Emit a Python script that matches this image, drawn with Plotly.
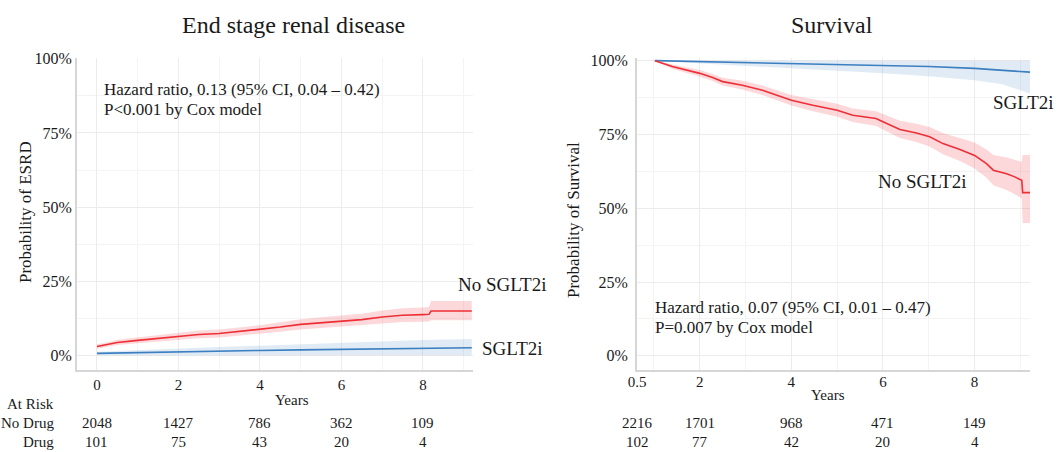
import plotly.graph_objects as go

W, H = 1059, 452

# ---------------- data ----------------
# End stage renal disease (cumulative incidence)
esrd_years = [0, 0.25, 0.5, 1, 1.5, 2, 2.5, 3, 3.5, 4, 4.5, 5, 5.5, 6, 6.5, 7, 7.5, 8, 8.15, 8.2, 9.2]
esrd_no = [0.029, 0.035, 0.043, 0.050, 0.057, 0.065, 0.070, 0.073, 0.080, 0.086, 0.095, 0.104, 0.110,
           0.115, 0.120, 0.129, 0.135, 0.137, 0.138, 0.149, 0.149]
esrd_no_lo = [0.022, 0.027, 0.034, 0.040, 0.046, 0.053, 0.057, 0.060, 0.066, 0.072, 0.079, 0.087, 0.092,
              0.096, 0.100, 0.107, 0.112, 0.113, 0.114, 0.118, 0.118]
esrd_no_hi = [0.037, 0.043, 0.052, 0.060, 0.068, 0.077, 0.083, 0.087, 0.094, 0.101, 0.111, 0.121, 0.128,
              0.134, 0.140, 0.151, 0.158, 0.161, 0.163, 0.183, 0.183]
esrd_drug_years = [0, 1, 2, 3, 4, 5, 6, 7, 8, 9.2]
esrd_drug = [0.006, 0.009, 0.011, 0.013, 0.016, 0.018, 0.020, 0.021, 0.023, 0.025]
esrd_drug_lo = [0, 0, 0, 0, 0, 0, 0, 0, 0, 0]
esrd_drug_hi = [0.012, 0.018, 0.023, 0.028, 0.032, 0.037, 0.041, 0.046, 0.051, 0.055]

# Survival
surv_years = [1.02, 1.4, 2.0, 2.28, 2.5, 2.93, 3.37, 4.0, 4.47, 5.0, 5.34, 5.85, 6.0, 6.37, 6.73,
              7.02, 7.31, 7.68, 8.0, 8.26, 8.41, 8.7, 8.85, 9.03, 9.05, 9.21]
surv_no = [1.0, 0.980, 0.957, 0.943, 0.929, 0.917, 0.900, 0.866, 0.849, 0.832, 0.815, 0.804, 0.793,
           0.767, 0.755, 0.742, 0.719, 0.699, 0.679, 0.651, 0.629, 0.617, 0.608, 0.595, 0.553, 0.553]
surv_no_lo = [1.0, 0.972, 0.946, 0.931, 0.916, 0.902, 0.884, 0.848, 0.829, 0.810, 0.792, 0.779, 0.767,
              0.738, 0.724, 0.709, 0.683, 0.660, 0.635, 0.603, 0.578, 0.562, 0.550, 0.533, 0.450, 0.450]
surv_no_hi = [1.0, 0.988, 0.968, 0.955, 0.942, 0.932, 0.916, 0.884, 0.869, 0.854, 0.838, 0.829, 0.819,
              0.796, 0.786, 0.775, 0.755, 0.738, 0.723, 0.699, 0.680, 0.672, 0.666, 0.657, 0.680, 0.680]
surv_drug_years = [1.02, 2, 3, 4, 5, 6, 7, 8, 8.6, 9.21]
surv_drug = [1.0, 0.997, 0.994, 0.991, 0.988, 0.985, 0.980, 0.974, 0.968, 0.961]
surv_drug_lo = [1.0, 0.990, 0.982, 0.974, 0.966, 0.957, 0.947, 0.934, 0.920, 0.889]
surv_drug_hi = [1.0, 1.0, 1.0, 1.0, 1.0, 1.0, 1.0, 1.0, 1.0, 1.0]

# At-risk tables
risk_ticks_l = [0, 2, 4, 6, 8]
risk_no_l = ["2048", "1427", "786", "362", "109"]
risk_drug_l = ["101", "75", "43", "20", "4"]
risk_ticks_r_labels = ["0.5", "2", "4", "6", "8"]
risk_no_r = ["2216", "1701", "968", "471", "149"]
risk_drug_r = ["102", "77", "42", "20", "4"]

# ---------------- style ----------------
RED = "#EE2F36"
BLUE = "#3C7FC0"
RED_F = "rgba(240,60,75,0.20)"
BLUE_F = "rgba(70,130,190,0.16)"
FONT = "Liberation Serif"
TXT = "#1a1a1a"
GRID = "#ececec"
MINOR = "#f4f4f4"


def px(x):
    return x / W


def py(y):
    return 1 - y / H


XR_MIN = 0.63  # left edge of survival axis (labelled 0.5)

fig = go.Figure()


def band(xs, lo, hi, fill, xa, ya):
    fig.add_trace(go.Scatter(x=xs, y=lo, mode="lines", line=dict(width=0),
                             xaxis=xa, yaxis=ya, hoverinfo="skip", showlegend=False))
    fig.add_trace(go.Scatter(x=xs, y=hi, mode="lines", line=dict(width=0),
                             fill="tonexty", fillcolor=fill, xaxis=xa, yaxis=ya,
                             hoverinfo="skip", showlegend=False))


def line(xs, ys, color, xa, ya, name):
    fig.add_trace(go.Scatter(x=xs, y=ys, mode="lines", name=name,
                             line=dict(color=color, width=1.6),
                             xaxis=xa, yaxis=ya, showlegend=False))


band(esrd_drug_years, esrd_drug_lo, esrd_drug_hi, BLUE_F, "x", "y")
band(esrd_years, esrd_no_lo, esrd_no_hi, RED_F, "x", "y")
line(esrd_drug_years, esrd_drug, BLUE, "x", "y", "SGLT2i")
line(esrd_years, esrd_no, RED, "x", "y", "No SGLT2i")

band(surv_drug_years, surv_drug_lo, surv_drug_hi, BLUE_F, "x2", "y2")
band(surv_years, surv_no_lo, surv_no_hi, RED_F, "x2", "y2")
line(surv_drug_years, surv_drug, BLUE, "x2", "y2", "SGLT2i")
line(surv_years, surv_no, RED, "x2", "y2", "No SGLT2i")

axis_common = dict(showline=True, linecolor="#d6d6d6", linewidth=2, zeroline=False,
                   gridcolor=GRID, gridwidth=1, ticks="", showticklabels=True, automargin=False)

ydom = [py(370), py(58)]

fig.update_layout(
    width=W, height=H, margin=dict(l=0, r=0, t=0, b=0, pad=0),
    paper_bgcolor="white", plot_bgcolor="white",
    font=dict(family=FONT, color=TXT),
    showlegend=False,
    xaxis=dict(domain=[px(77), px(473)], range=[-0.49, 9.23], tickvals=risk_ticks_l,
               ticktext=[str(v) for v in risk_ticks_l], tickfont=dict(size=15, color=TXT),
               ticklabelstandoff=0,
               minor=dict(showgrid=True, gridcolor=MINOR, tick0=1, dtick=2), anchor="y", **axis_common),
    yaxis=dict(domain=ydom, range=[-0.05, 1.003], tickvals=[0, 0.25, 0.5, 0.75, 1.0],
               tickformat=".0%", tickfont=dict(size=16, color=TXT), ticklabelstandoff=0,
               minor=dict(showgrid=True, gridcolor=MINOR, tick0=0.125, dtick=0.25), anchor="x", **axis_common),
    xaxis2=dict(domain=[px(637), px(1030)], range=[XR_MIN, 9.21],
                tickvals=[XR_MIN, 2, 4, 6, 8], ticktext=risk_ticks_r_labels,
                tickfont=dict(size=15, color=TXT), ticklabelstandoff=-3,
                minor=dict(showgrid=True, gridcolor=MINOR, tick0=1, dtick=1), anchor="y2", **axis_common),
    yaxis2=dict(domain=ydom, range=[-0.048, 1.009], tickvals=[0, 0.25, 0.5, 0.75, 1.0],
                tickformat=".0%", tickfont=dict(size=16, color=TXT), ticklabelstandoff=4,
                minor=dict(showgrid=True, gridcolor=MINOR, tick0=0.125, dtick=0.25), anchor="x2", **axis_common),
)

ann = []


def text(x, y, s, size, xanchor="center", angle=0, xref="paper", color=TXT):
    ann.append(dict(x=x, y=y, xref=xref, yref="paper", text=s, showarrow=False,
                    xanchor=xanchor, yanchor="middle", textangle=angle,
                    font=dict(family=FONT, size=size, color=color)))


# titles
text(px(293), py(25), "End stage renal disease", 24)
text(px(832), py(25), "Survival", 24)
# axis titles
text(px(25), py(212), "Probability of ESRD", 17, angle=-90)
text(px(573), py(220), "Probability of Survival", 17, angle=-90)
text(px(292), py(400), "Years", 15)
text(px(828), py(395), "Years", 15)
# stats
text(px(102), py(89), "Hazard ratio, 0.13 (95% CI, 0.04 – 0.42)", 17, xanchor="left")
text(px(102), py(109), "P&lt;0.001 by Cox model", 17, xanchor="left")
text(px(653), py(307), "Hazard ratio, 0.07 (95% CI, 0.01 – 0.47)", 17, xanchor="left")
text(px(653), py(327), "P=0.007 by Cox model", 17, xanchor="left")
# curve labels
text(px(456), py(284), "No SGLT2i", 19, xanchor="left")
text(px(480), py(348), "SGLT2i", 19, xanchor="left")
text(px(991), py(102), "SGLT2i", 19, xanchor="left")
text(px(876), py(181), "No SGLT2i", 19, xanchor="left")
# at-risk table
text(px(56), py(404), "At Risk", 15, xanchor="right")
text(px(56), py(423), "No Drug", 15, xanchor="right")
text(px(56), py(442), "Drug", 15, xanchor="right")
for xv, a, b in zip(risk_ticks_l, risk_no_l, risk_drug_l):
    text(xv, py(423), a, 15, xref="x")
    text(xv, py(442), b, 15, xref="x")
for xv, a, b in zip([XR_MIN, 2, 4, 6, 8], risk_no_r, risk_drug_r):
    text(xv, py(423), a, 15, xref="x2")
    text(xv, py(442), b, 15, xref="x2")

fig.update_layout(annotations=ann)
fig.write_html("out.html")
